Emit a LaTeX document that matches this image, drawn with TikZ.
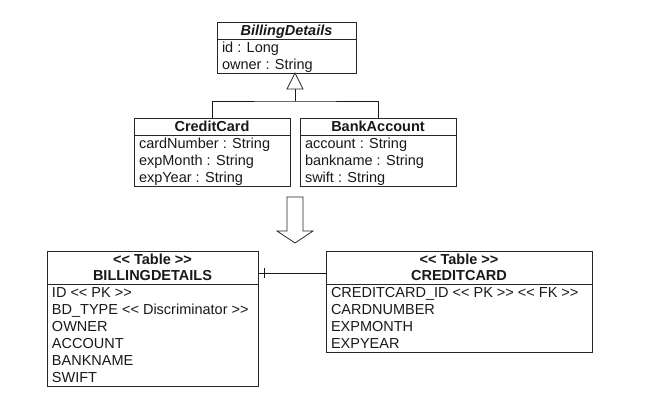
\documentclass[tikz,border=0pt]{standalone}
\usepackage{fontspec}
\setmainfont{Liberation Sans}[Ligatures=TeXOff]
\usetikzlibrary{calc}
\begin{document}
\begin{tikzpicture}[x=1pt,y=-1pt,
  box/.style={draw=black!85, line width=0.9pt, fill=white, inner sep=0pt, outer sep=0pt, anchor=north west},
  txt/.style={inner sep=0pt, outer sep=0pt, font=\fontsize{14.5}{17}\selectfont, text=black!90},
  hd/.style={txt, font=\fontsize{14.5}{17}\selectfont\bfseries},
  sep/.style={draw=black!85, line width=0.9pt},
  conn/.style={draw=black!90, line width=0.8pt},
  hollow/.style={draw=black!85, line width=0.8pt, fill=white}]
\useasboundingbox (0,0) rectangle (657,404);
\fill[white] (0,0) rectangle (657,404);

% ---- class BillingDetails
\node[box, minimum width=139pt, minimum height=51pt] (bd) at (217,22) {};
\draw[sep] ($(bd.north west)+(0,17)$) -- ($(bd.north east)+(0,17)$);
\node[hd, anchor=base, font=\fontsize{14.5}{17}\selectfont\bfseries\itshape] (bdh) at ($(bd.north)+(0,13.5)$) {BillingDetails};
\node[txt, anchor=base west] (bd1) at ($(bd.north west)+(5,30.5)$) {id : Long};
\node[txt, anchor=base west] (bd2) at ($(bd.north west)+(5,47.5)$) {owner : String};

% ---- class CreditCard
\node[box, minimum width=156pt, minimum height=68pt] (cc) at (134,118) {};
\draw[sep] ($(cc.north west)+(0,17)$) -- ($(cc.north east)+(0,17)$);
\node[hd, anchor=base] (cch) at ($(cc.north)+(0,13.5)$) {CreditCard};
\node[txt, anchor=base west] (cc1) at ($(cc.north west)+(5,30.5)$) {cardNumber : String};
\node[txt, anchor=base west] (cc2) at ($(cc.north west)+(5,47.5)$) {expMonth : String};
\node[txt, anchor=base west] (cc3) at ($(cc.north west)+(5,64.5)$) {expYear : String};

% ---- class BankAccount
\node[box, minimum width=156pt, minimum height=68pt] (ba) at (300,118) {};
\draw[sep] ($(ba.north west)+(0,17)$) -- ($(ba.north east)+(0,17)$);
\node[hd, anchor=base] (bah) at ($(ba.north)+(0,13.5)$) {BankAccount};
\node[txt, anchor=base west] (ba1) at ($(ba.north west)+(5,30.5)$) {account : String};
\node[txt, anchor=base west] (ba2) at ($(ba.north west)+(5,47.5)$) {bankname : String};
\node[txt, anchor=base west] (ba3) at ($(ba.north west)+(5,64.5)$) {swift : String};

% ---- generalization
\coordinate (apex) at ($(bd.south west)+(78,0)$);
\coordinate (tbase) at ($(apex)+(0,16)$);
\coordinate (junc) at ($(apex)+(0,28)$);
\draw[conn] (tbase) -- (junc);
\draw[conn] (cc.north) |- (junc) -| (ba.north);
\draw[hollow] (apex) -- ++(-8,16) -- ++(16,0) -- cycle;

% ---- big hollow arrow
\draw[hollow] (287,197) -- (303,197) -- (303,231) -- (313,231) -- (295,243)
  -- (277,231) -- (287,231) -- cycle;

% ---- table BILLINGDETAILS
\node[box, minimum width=211pt, minimum height=135pt] (bdt) at (47,251) {};
\draw[sep] ($(bdt.north west)+(0,33)$) -- ($(bdt.north east)+(0,33)$);
\node[hd, anchor=base] (bdts) at ($(bdt.north)+(0,13)$) {<< Table >>};
\node[hd, anchor=base] (bdtn) at ($(bdt.north)+(0,29.5)$) {BILLINGDETAILS};
\node[txt, anchor=base west] (t1) at ($(bdt.north west)+(5,46.7)$) {ID << PK >>};
\node[txt, anchor=base west] (t2) at ($(bdt.north west)+(5,63.7)$) {BD\_TYPE << Discriminator >>};
\node[txt, anchor=base west] (t3) at ($(bdt.north west)+(5,80.7)$) {OWNER};
\node[txt, anchor=base west] (t4) at ($(bdt.north west)+(5,97.7)$) {ACCOUNT};
\node[txt, anchor=base west] (t5) at ($(bdt.north west)+(5,114.7)$) {BANKNAME};
\node[txt, anchor=base west] (t6) at ($(bdt.north west)+(5,131.7)$) {SWIFT};

% ---- table CREDITCARD
\node[box, minimum width=266pt, minimum height=101pt] (cct) at (326,251) {};
\draw[sep] ($(cct.north west)+(0,33)$) -- ($(cct.north east)+(0,33)$);
\node[hd, anchor=base] (ccts) at ($(cct.north)+(0,13)$) {<< Table >>};
\node[hd, anchor=base] (cctn) at ($(cct.north)+(0,29.5)$) {CREDITCARD};
\node[txt, anchor=base west] (u1) at ($(cct.north west)+(5,46.7)$) {CREDITCARD\_ID << PK >> << FK >>};
\node[txt, anchor=base west] (u2) at ($(cct.north west)+(5,63.7)$) {CARDNUMBER};
\node[txt, anchor=base west] (u3) at ($(cct.north west)+(5,80.7)$) {EXPMONTH};
\node[txt, anchor=base west] (u4) at ($(cct.north west)+(5,97.7)$) {EXPYEAR};

% ---- relationship
\draw[conn] ($(bdt.north east)+(0,22)$) -- ($(cct.north west)+(0,22)$);
\draw[conn] ($(bdt.north east)+(6,17)$) -- ++(0,10);
\end{tikzpicture}
\end{document}
